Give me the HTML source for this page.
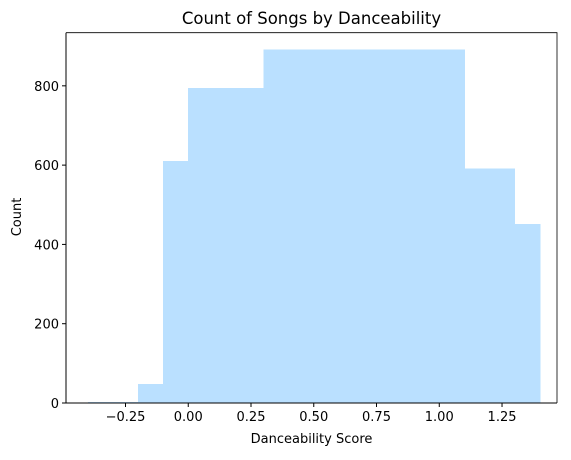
<!DOCTYPE html>
<html><head><meta charset="utf-8"><style>
body{margin:0;background:#fff;}
svg text{font-family:"DejaVu Sans","Liberation Sans",sans-serif;fill:#000;}
</style></head><body>
<svg id="chart" width="571" height="455">
<text x="311.5" y="24" font-size="16.5" text-anchor="middle">Count of Songs by Danceability</text>
<g id="bars" shape-rendering="crispEdges"></g>
<g id="axes"></g>
<text x="311.5" y="443" font-size="13" text-anchor="middle">Danceability Score</text>
<text transform="translate(21,217) rotate(-90)" font-size="13" text-anchor="middle">Count</text>
</svg>
<script>
const binStarts=[-0.4,-0.2,-0.1,0.0,0.3,1.1,1.3];
const binEnds=[-0.2,-0.1,0.0,0.3,1.1,1.3,1.4];
const counts=[3,48,610,795,892,592,452];
const xTicks=[-0.25,0,0.25,0.5,0.75,1.0,1.25];
const xTickLabels=["−0.25","0.00","0.25","0.50","0.75","1.00","1.25"];
const yTicks=[0,200,400,600,800];

const NS="http://www.w3.org/2000/svg";
const L=66,R=557,T=32.7,B=403;
const xMin=-0.487,xMax=1.469,yMax=934;
const sx=v=>L+(v-xMin)/(xMax-xMin)*(R-L);
const sy=v=>B-v/yMax*(B-T);
function mk(tag,attrs){const e=document.createElementNS(NS,tag);for(const k in attrs)e.setAttribute(k,attrs[k]);return e;}
const bars=document.getElementById('bars'),axes=document.getElementById('axes');
counts.forEach((c,i)=>{
  const r=mk('rect',{x:sx(binStarts[i]),y:sy(c),width:sx(binEnds[i])-sx(binStarts[i])+0.6,height:B-sy(c),fill:'#bae0ff'});
  
  
  bars.appendChild(r);
});
const frame=mk('path',{d:`M${L},${T}V${B}H${R}`,stroke:'#000','stroke-width':1,fill:'none'});


axes.appendChild(frame);
const frame2=mk('path',{d:`M${L},${T}H${R}V${B}`,stroke:'#000','stroke-width':0.8,fill:'none'});


axes.appendChild(frame2);
xTicks.forEach((v,i)=>{
  const x=sx(v);
  axes.appendChild(mk('line',{x1:x,x2:x,y1:B,y2:B+4,stroke:'#000'}));
  const t=mk('text',{x:x,y:B+18,'font-size':13,'text-anchor':'middle'});
  t.textContent=xTickLabels[i];
  
  
  axes.appendChild(t);
});
yTicks.forEach(v=>{
  const y=sy(v);
  axes.appendChild(mk('line',{x1:L-4,x2:L,y1:y,y2:y,stroke:'#000'}));
  const t=mk('text',{x:L-7,y:y+5,'font-size':13,'text-anchor':'end'});
  t.textContent=v;
  
  
  axes.appendChild(t);
});
</script>
</body></html>
